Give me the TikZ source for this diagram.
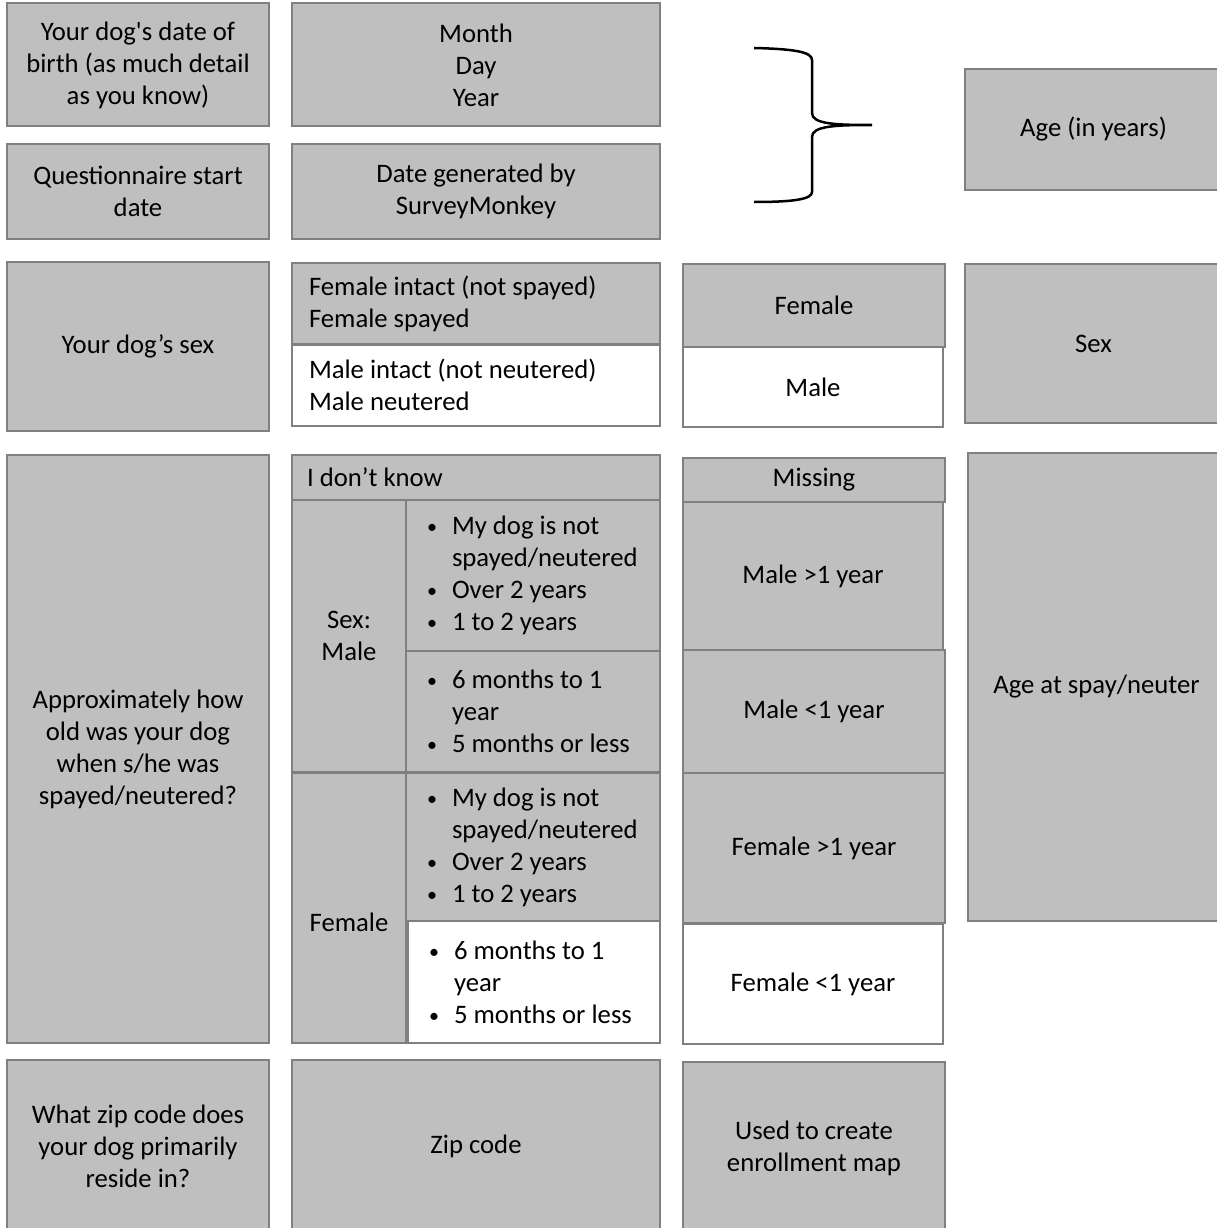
\documentclass[tikz,border=0pt]{standalone}
\usepackage{fontspec}
\setmainfont{Carlito}
\definecolor{cellgray}{HTML}{BFBFBF}
\definecolor{linegray}{HTML}{808080}
\newcommand\bitem{\makebox[25pt][l]{\raisebox{1pt}{\fontsize{20pt}{20pt}\selectfont\textbullet}}}
\newcommand\bcont{\hspace*{25pt}}
\tikzset{
  cell/.style = {draw = linegray, fill = cellgray, line width = 2pt, inner sep = 0pt,
                 align = center, font = \fontsize{26.7pt}{32pt}\selectfont},
  blank/.style = {cell, fill = white},
  listcell/.style = {text width = #1, align = flush left, inner xsep = 17pt}
}

\begin{document}
\begin{tikzpicture}[x = 1pt, y = -1pt]
              \useasboundingbox (0, 0) rectangle (1217, 1228);
              \clip (0, 0) rectangle (1217, 1228);

              % birth date and questionnaire date
              \node[cell, minimum width = 262, minimum height = 123] (dob) at (138, 65)
                {Your dog\textquotesingle s date of\\birth (as much detail\\as you know)};
              \node[cell, minimum width = 368, minimum height = 123] (dobfmt) at (476, 65)
                {Month\\Day\\Year};
              \node[cell, minimum width = 262, minimum height = 95] (start) at (138, 191.5)
                {Questionnaire start\\date};
              \node[cell, minimum width = 368, minimum height = 95] (startfmt) at (476, 191.5)
                {Date generated by\\SurveyMonkey};
              \draw[line width = 2.5pt] (754, 48) .. controls (795, 49) and (812, 52) .. (812, 60)
                -- (812, 113) .. controls (812, 124) and (835, 125) .. (872, 125)
                .. controls (835, 125) and (812, 126) .. (812, 137)
                -- (812, 192) .. controls (812, 199) and (795, 202) .. (754, 202);
              \node[cell, minimum width = 257, minimum height = 121] (age) at (1093.5, 129.5)
                {Age (in years)};

              % sex
              \node[cell, minimum width = 262, minimum height = 169] (sexq) at (138, 346.5)
                {Your dog’s sex};
              \node[cell, listcell = 334, minimum height = 81] (femopt) at (476, 303.5)
                {Female intact (not spayed)\\Female spayed};
              \node[blank, listcell = 334, minimum height = 81] (maleopt) at (476, 385)
                {Male intact (not neutered)\\Male neutered};
              \node[cell, minimum width = 262, minimum height = 83] (female) at (814, 305.5)
                {Female};
              \node[blank, minimum width = 260, minimum height = 80] (male) at (813, 387)
                {Male};
              \node[cell, minimum width = 257, minimum height = 159] (sex) at (1093.5, 343.5)
                {Sex};

              % age at spay/neuter
              \node[cell, minimum width = 262, minimum height = 588] (spayq) at (138, 749)
                {Approximately how\\old was your dog\\when s/he was\\spayed/neutered?};
              \node[cell, listcell = 338, inner xsep = 15pt, minimum height = 45] (dontknow) at (476, 477.5)
                {I don’t know};
              \node[cell, minimum width = 114, minimum height = 272] (sexmale) at (349, 636)
                {Sex:\\Male};
              \node[cell, listcell = 212, inner xsep = 21pt, minimum height = 151] (mold) at (533, 575.5)
                {\bitem My dog is not\\\bcont spayed/neutered\\\bitem Over 2 years\\\bitem 1 to 2 years};
              \node[cell, listcell = 212, inner xsep = 21pt, minimum height = 121] (myoung) at (533, 711.5)
                {\bitem 6 months to 1\\\bcont year\\\bitem 5 months or less};
              \node[cell, minimum width = 114, minimum height = 270] (sexfem) at (349, 908)
                {\raisebox{-23pt}[0pt][0pt]{Female}};
              \node[cell, listcell = 212, inner xsep = 21pt, minimum height = 148] (fold) at (533, 847)
                {\bitem My dog is not\\\bcont spayed/neutered\\\bitem Over 2 years\\\bitem 1 to 2 years};
              \node[blank, listcell = 210, inner xsep = 21pt, minimum height = 122] (fyoung) at (534, 982)
                {\bitem 6 months to 1\\\bcont year\\\bitem 5 months or less};
              \node[cell, minimum width = 262, minimum height = 44] (missing) at (814, 480)
                {Missing};
              \node[cell, minimum width = 260, minimum height = 148] (mover) at (813, 576)
                {Male >1 year};
              \node[cell, minimum width = 262, minimum height = 123] (munder) at (814, 711.5)
                {Male <1 year};
              \node[cell, minimum width = 262, minimum height = 150] (fover) at (814, 848)
                {Female >1 year};
              \node[blank, minimum width = 260, minimum height = 120] (funder) at (813, 984)
                {Female <1 year};
              \node[cell, minimum width = 257, minimum height = 468] (spayage) at (1096.5, 687)
                {Age at spay/neuter};

              % zip code
              \node[cell, minimum width = 262, minimum height = 172] (zipq) at (138, 1146)
                {What zip code does\\your dog primarily\\reside in?};
              \node[cell, minimum width = 368, minimum height = 172] (zip) at (476, 1146)
                {Zip code};
              \node[cell, minimum width = 262, minimum height = 172] (zipuse) at (814, 1148)
                {Used to create\\enrollment map};
            \end{tikzpicture}
\end{document}
